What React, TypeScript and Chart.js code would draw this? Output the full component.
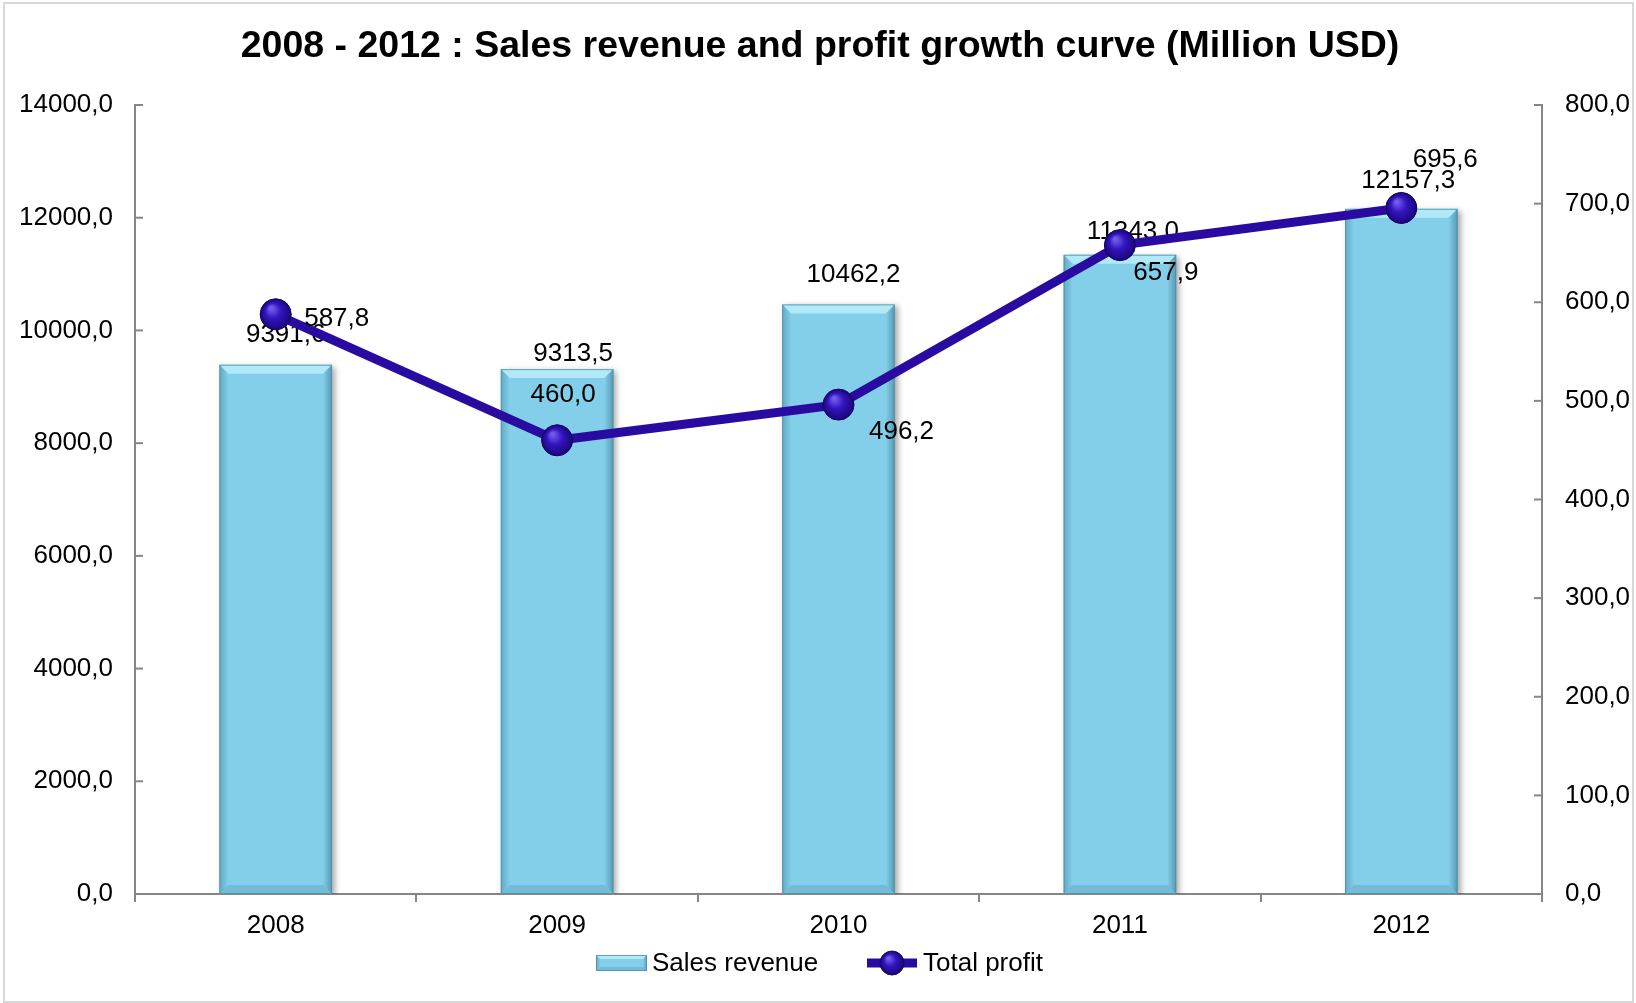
import React, { useEffect, useRef } from "react";
import { Chart, registerables } from "chart.js";

Chart.register(...registerables);

const categories = ["2008", "2009", "2010", "2011", "2012"];
const salesRevenue = [9391.6, 9313.5, 10462.2, 11343.0, 12157.3];
const totalProfit = [587.8, 460.0, 496.2, 657.9, 695.6];
const leftTicks = [0, 2000, 4000, 6000, 8000, 10000, 12000, 14000];
const rightTicks = [0, 100, 200, 300, 400, 500, 600, 700, 800];
const titleText = "2008 - 2012 : Sales revenue and profit growth curve (Million USD)";
const seriesNames = ["Sales revenue", "Total profit"];

// label placement nudges (px), relative to mark
const barLabelNudge = [[10, -30], [16, -15], [15, -30], [13, -23], [7, -28]];
const lineLabelNudge = [[61, 5], [6, -45], [63, 27], [46, 28], [44, -48]];

const FONT = "'Liberation Sans', Arial, sans-serif";
const fmt = (v: number) => v.toFixed(1).replace(".", ",");

const BAR = "#83CEE8";
const LINE = "#2A0BA2";
const AXIS = "#868686";

function drawBevelBar(ctx: CanvasRenderingContext2D, x0: number, y0: number, x1: number, y1: number, b: number) {
  ctx.save();
  // top
  ctx.fillStyle = "rgba(185,238,250,0.85)";
  ctx.beginPath();
  ctx.moveTo(x0, y0); ctx.lineTo(x1, y0); ctx.lineTo(x1 - b, y0 + b); ctx.lineTo(x0 + b, y0 + b); ctx.closePath();
  ctx.fill();
  // left
  const gl = ctx.createLinearGradient(x0, 0, x0 + b, 0);
  gl.addColorStop(0, "rgba(60,125,150,0.45)");
  gl.addColorStop(1, "rgba(60,125,150,0)");
  ctx.fillStyle = gl;
  ctx.beginPath();
  ctx.moveTo(x0, y0); ctx.lineTo(x0 + b, y0 + b); ctx.lineTo(x0 + b, y1 - b); ctx.lineTo(x0, y1); ctx.closePath();
  ctx.fill();
  // right
  const gr = ctx.createLinearGradient(x1, 0, x1 - b, 0);
  gr.addColorStop(0, "rgba(50,110,135,0.55)");
  gr.addColorStop(1, "rgba(50,110,135,0)");
  ctx.fillStyle = gr;
  ctx.beginPath();
  ctx.moveTo(x1, y0); ctx.lineTo(x1 - b, y0 + b); ctx.lineTo(x1 - b, y1 - b); ctx.lineTo(x1, y1); ctx.closePath();
  ctx.fill();
  // bottom
  ctx.fillStyle = "rgba(60,125,150,0.22)";
  ctx.beginPath();
  ctx.moveTo(x0, y1); ctx.lineTo(x0 + b, y1 - b); ctx.lineTo(x1 - b, y1 - b); ctx.lineTo(x1, y1); ctx.closePath();
  ctx.fill();
  ctx.strokeStyle = "rgba(80,140,165,0.8)";
  ctx.lineWidth = 1;
  ctx.strokeRect(x0 + 0.5, y0 + 0.5, x1 - x0 - 1, y1 - y0 - 1);
  ctx.restore();
}

function drawSphere(ctx: CanvasRenderingContext2D, x: number, y: number, r: number) {
  ctx.save();
  const g = ctx.createRadialGradient(x - r * 0.3, y - r * 0.4, r * 0.1, x, y, r);
  g.addColorStop(0, "#6F5CE8");
  g.addColorStop(0.45, "#3414C0");
  g.addColorStop(1, "#1A0678");
  ctx.fillStyle = g;
  ctx.beginPath();
  ctx.arc(x, y, r, 0, Math.PI * 2);
  ctx.fill();
  ctx.strokeStyle = "#14055E";
  ctx.lineWidth = 1;
  ctx.stroke();
  ctx.restore();
}

const customPlugin = {
  id: "custom",
  beforeDraw(chart: any) {
    const ctx = chart.ctx;
    ctx.save();
    ctx.fillStyle = "#ffffff";
    ctx.fillRect(0, 0, chart.width, chart.height);
    ctx.strokeStyle = "#d9d9d9";
    ctx.lineWidth = 2;
    ctx.strokeRect(4, 3, chart.width - 7, chart.height - 4);
    ctx.restore();
  },
  beforeDatasetDraw(chart: any, args: any) {
    if (args.index === 0) {
      const ctx = chart.ctx;
      ctx.save();
      ctx.shadowColor = "rgba(0,0,0,0.35)";
      ctx.shadowBlur = 6;
      ctx.shadowOffsetX = 3;
      ctx.shadowOffsetY = 2;
    }
  },
  afterDatasetDraw(chart: any, args: any) {
    const ctx = chart.ctx;
    if (args.index === 0) {
      ctx.restore();
      const meta = chart.getDatasetMeta(0);
      meta.data.forEach((bar: any) => {
        const x0 = bar.x - bar.width / 2;
        const x1 = bar.x + bar.width / 2;
        drawBevelBar(ctx, x0, bar.y, x1, bar.base, 9);
      });
      // bar labels (under line)
      ctx.save();
      ctx.font = `26px ${FONT}`;
      ctx.fillStyle = "#000";
      ctx.textAlign = "center";
      ctx.textBaseline = "middle";
      meta.data.forEach((bar: any, i: number) => {
        const n = barLabelNudge[i];
        ctx.fillText(fmt(salesRevenue[i]), bar.x + n[0], bar.y + n[1]);
      });
      ctx.restore();
    }
    if (args.index === 1) {
      const meta = chart.getDatasetMeta(1);
      meta.data.forEach((pt: any) => drawSphere(ctx, pt.x, pt.y, 15.5));
    }
  },
  afterDraw(chart: any) {
    const ctx = chart.ctx;
    const area = chart.chartArea;
    ctx.save();
    // line labels
    ctx.font = `26px ${FONT}`;
    ctx.fillStyle = "#000";
    ctx.textAlign = "center";
    ctx.textBaseline = "middle";
    const meta = chart.getDatasetMeta(1);
    meta.data.forEach((pt: any, i: number) => {
      const n = lineLabelNudge[i];
      ctx.fillText(fmt(totalProfit[i]), pt.x + n[0], pt.y + n[1]);
    });

    // inward y ticks
    ctx.strokeStyle = AXIS;
    ctx.lineWidth = 2;
    const yl = chart.scales.y;
    const yr = chart.scales.y1;
    yl.ticks.forEach((t: any) => {
      const y = yl.getPixelForValue(t.value);
      ctx.beginPath();
      ctx.moveTo(area.left, y);
      ctx.lineTo(area.left + 8, y);
      ctx.stroke();
    });
    yr.ticks.forEach((t: any) => {
      const y = yr.getPixelForValue(t.value);
      ctx.beginPath();
      ctx.moveTo(area.right, y);
      ctx.lineTo(area.right - 8, y);
      ctx.stroke();
    });

    // title
    ctx.font = `bold 37.5px ${FONT}`;
    ctx.fillStyle = "#000";
    ctx.textAlign = "center";
    ctx.textBaseline = "middle";
    ctx.fillText(titleText, 820, 47);

    // legend
    const ly = 963;
    ctx.fillStyle = BAR;
    ctx.fillRect(596, 955, 51, 16);
    drawBevelBar(ctx, 596, 955, 647, 971, 4);
    ctx.font = `26px ${FONT}`;
    ctx.fillStyle = "#000";
    ctx.textAlign = "left";
    ctx.textBaseline = "middle";
    ctx.fillText(seriesNames[0], 652, ly + 1);
    ctx.strokeStyle = LINE;
    ctx.lineWidth = 9;
    ctx.beginPath();
    ctx.moveTo(867, ly);
    ctx.lineTo(917, ly);
    ctx.stroke();
    drawSphere(ctx, 892, ly, 12);
    ctx.fillStyle = "#000";
    ctx.fillText(seriesNames[1], 923, ly + 1);
    ctx.restore();
  },
};

export default function App() {
  const ref = useRef<HTMLCanvasElement>(null);
  useEffect(() => {
    document.body.style.margin = "0";
    const chart = new Chart(ref.current as HTMLCanvasElement, {
      type: "bar",
      data: {
        labels: categories,
        datasets: [
          {
            type: "bar",
            label: seriesNames[0],
            data: salesRevenue,
            backgroundColor: BAR,
            borderWidth: 0,
            barPercentage: 0.8,
            categoryPercentage: 0.5,
            yAxisID: "y",
            order: 2,
          },
          {
            type: "line",
            label: seriesNames[1],
            data: totalProfit,
            borderColor: LINE,
            borderWidth: 9,
            pointRadius: 15.5,
            pointBackgroundColor: "#2D10B0",
            pointBorderWidth: 0,
            tension: 0,
            yAxisID: "y1",
            order: 1,
          },
        ] as any,
      },
      options: {
        animation: false,
        responsive: true,
        maintainAspectRatio: false,
        devicePixelRatio: 1,
        layout: { padding: { top: 105, left: 0, right: 0, bottom: 0 } },
        plugins: {
          legend: { display: false },
          title: { display: false },
          tooltip: { enabled: false },
        },
        scales: {
          x: {
            offset: true,
            grid: { display: true, drawOnChartArea: false, drawTicks: true, tickLength: 8, offset: true, color: AXIS, lineWidth: 2 },
            border: { display: true, color: AXIS, width: 2 },
            ticks: { color: "#000", font: { family: FONT, size: 26 }, padding: 8 },
            afterFit: (s: any) => { s.height = 109; },
          },
          y: {
            position: "left",
            min: 0,
            max: 14000,
            afterBuildTicks: (s: any) => { s.ticks = leftTicks.map((v) => ({ value: v })); },
            grid: { display: false },
            border: { display: true, color: AXIS, width: 2 },
            ticks: { color: "#000", font: { family: FONT, size: 26 }, padding: 14, callback: (v: any) => fmt(Number(v)) },
            afterFit: (s: any) => { s.width = 135; },
          },
          y1: {
            position: "right",
            min: 0,
            max: 800,
            afterBuildTicks: (s: any) => { s.ticks = rightTicks.map((v) => ({ value: v })); },
            grid: { display: false },
            border: { display: true, color: AXIS, width: 2 },
            ticks: { color: "#000", font: { family: FONT, size: 26 }, padding: 15, callback: (v: any) => fmt(Number(v)) },
            afterFit: (s: any) => { s.width = 94; },
          },
        },
      } as any,
      plugins: [customPlugin],
    });
    return () => chart.destroy();
  }, []);
  return (
    <div style={{ width: "1636px", height: "1003px", position: "relative" }}>
      <canvas ref={ref} />
    </div>
  );
}
